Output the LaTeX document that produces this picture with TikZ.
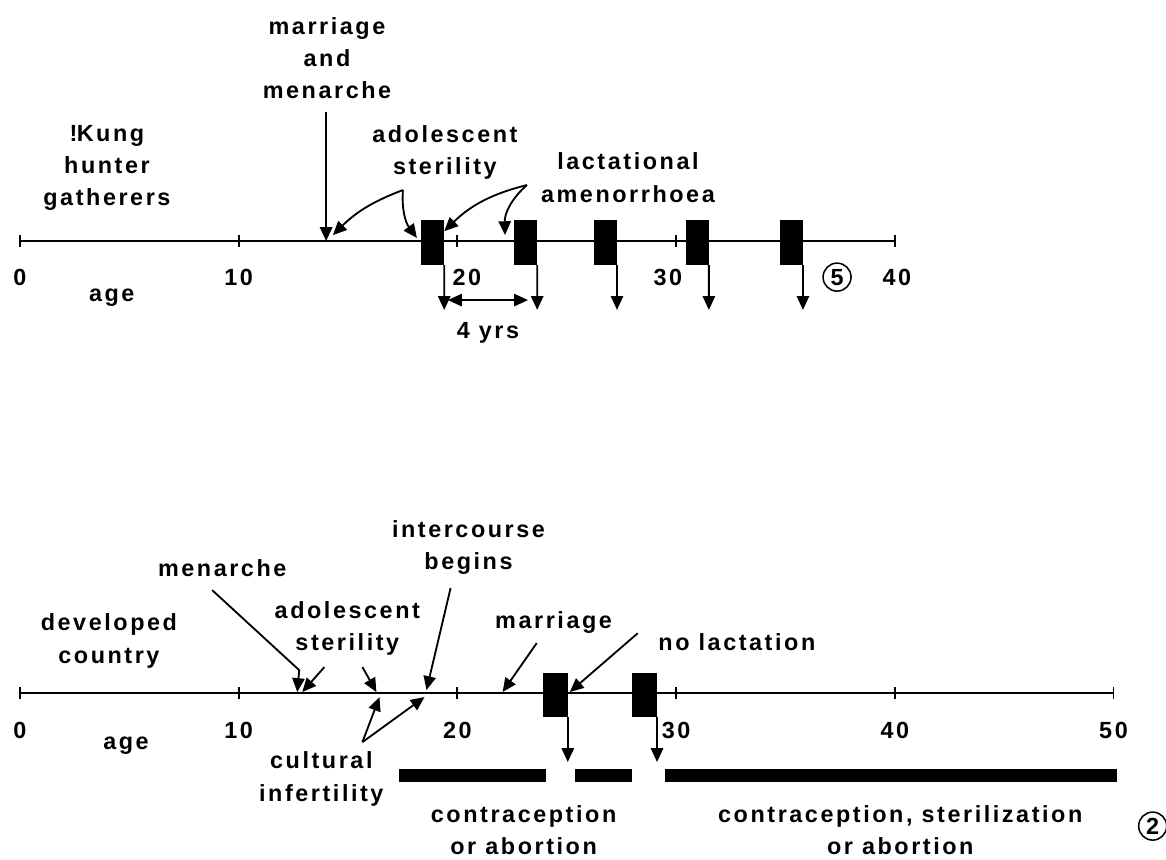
\documentclass[tikz,border=0pt]{standalone}
\usepackage{fontspec}
\newfontfamily\handfont{Liberation Sans Bold}[LetterSpace=11]
\usetikzlibrary{arrows.meta}

\tikzset{
  lbl/.style={font=\fontsize{15.2}{21}\selectfont\handfont, align=center, inner sep=1pt},
  birth/.style={fill=black, inner sep=0pt, outer sep=0pt, minimum width=0.525cm, minimum height=1.03cm, anchor=north west},
  bar/.style={line width=8.4pt},
  famsize/.style={lbl, circle, draw, line width=1pt, minimum size=0.64cm, inner sep=0pt},
}

\begin{document}
\begin{tikzpicture}[x=0.5cm,y=0.5cm,line width=1.2pt,>={Triangle[length=9pt,width=8pt]}]
\useasboundingbox (-0.91,-28.26) rectangle (52.40,11.02);

%%% top: !Kung hunter gatherers
\draw (0,0)--(40,0); % age axis
\foreach \t in {0,10,...,40} \draw (\t,0.27)--(\t,-0.27);
\node[lbl] (k0) at (0,-1.65) {0};
\node[lbl] (k10) at (10,-1.65) {10};
\node[lbl] (k20) at (20.44,-1.65) {20};
\node[lbl] (k30) at (29.63,-1.65) {30};
\node[lbl] (k40) at (40.1,-1.65) {40};
\node[famsize] (fam5) at (37.36,-1.65) {5};
\node[lbl] (kage) at (4.2,-2.6) {age};

\node[lbl] (kung) at (3.98,3.34) {!\kern-0.5pt Kung\\hunter\\gatherers};
\node[lbl] (kmarmen) at (14.04,8.37) {marriage\\and\\menarche};
\node[lbl] (kadol) at (19.43,4.05) {adolescent\\sterility};
\node[lbl] (klact) at (27.8,2.9) {lactational\\amenorrhoea};

% births every 4 yrs
\foreach \a [count=\i] in {18.35,22.6,26.25,30.45,34.75}{
  \node[birth] (kb\i) at (\a,0.96) {};
  \coordinate (kbd\i) at ({\a+1.05},-3.15);
  \draw[->] (kb\i.south east) -- (kbd\i);
}
\coordinate (gapA) at (19.57,-2.7);
\coordinate (gapB) at (23.23,-2.7);
\draw[<->] (gapA) -- (gapB);
\node[lbl] (kyrs) at (21.4,-4.2) {4 yrs};

\coordinate (kmarA) at (14,5.9);
\coordinate (kmarB) at (14,0);
\draw[->] (kmarA) -- (kmarB);

\coordinate (adolfork) at (17.51,2.33);
\coordinate (adolA) at (14.31,0.27);
\coordinate (adolB) at (18.15,0.14);
\draw[->] (adolfork) to[bend right=12] (adolA);
\draw[->] (adolfork) to[bend right=20] (adolB);

\coordinate (lactfork) at (23.18,2.56);
\coordinate (lactA) at (19.4,0.45);
\coordinate (lactB) at (22.18,0.27);
\draw[->] (lactfork) to[bend right=15] (lactA);
\draw[->] (lactfork) to[bend right=25] (lactB);

%%% bottom: developed country
\begin{scope}[shift={(0,-20.67)}]
\draw (0,0)--(50,0); % age axis
\foreach \t in {0,10,...,50}{
  \draw (\t,0.27)--(\t,-0.27);
  \node[lbl] (d\t) at (\t,-1.69) {\t};
}
\node[lbl] (dage) at (4.85,-2.38) {age};
\node[famsize] (fam2) at (51.79,-6.08) {2};

\node[lbl] (dev) at (4.07,2.38) {developed\\country};
\node[lbl] (dmen) at (9.25,5.72) {menarche};
\node[lbl] (dadol) at (14.97,2.95) {adolescent\\sterility};
\node[lbl] (dinter) at (20.51,6.65) {intercourse\\begins};
\node[lbl] (dcult) at (13.78,-3.93) {cultural\\infertility};
\node[lbl] (dmar) at (24.4,3.25) {marriage};
\node[lbl] (dnolac) at (32.78,2.33) {no lactation};
\node[lbl] (dcon) at (23.03,-6.26) {contraception\\or abortion};
\node[lbl] (dster) at (40.25,-6.26) {contraception, sterilization\\or abortion};

% two births
\foreach \a [count=\i] in {23.9,27.98}{
  \node[birth, minimum width=0.575cm, minimum height=1cm] (db\i) at (\a,0.91) {};
  \coordinate (dbd\i) at ({\a+1.15},-3.15);
  \draw[->] (db\i.south east) -- (dbd\i);
}
\draw[bar] (17.35,-3.75)--(24.04,-3.75);
\draw[bar] (25.37,-3.75)--(27.98,-3.75);
\draw[bar] (29.49,-3.75)--(50.14,-3.75);

\coordinate (menA) at (8.79,4.71);
\coordinate (menB) at (12.77,1.05);
\coordinate (menC) at (12.68,0.05);
\draw[->] (menA) -- (menB) -- (menC);

\coordinate (dadolA) at (13.92,1.19);
\coordinate (dadolB) at (12.91,0.05);
\coordinate (dadolC) at (15.66,1.19);
\coordinate (dadolD) at (16.3,0.05);
\draw[->] (dadolA) -- (dadolB);
\draw[->] (dadolC) -- (dadolD);

\coordinate (cultfork) at (15.66,-2.24);
\coordinate (cultA) at (16.44,-0.18);
\coordinate (cultB) at (18.5,-0.18);
\draw[->] (cultfork) -- (cultA);
\draw[->] (cultfork) -- (cultB);

\coordinate (interA) at (19.69,4.8);
\coordinate (interB) at (18.59,0.14);
\draw[->] (interA) -- (interB);

\coordinate (dmarA) at (23.63,2.29);
\coordinate (dmarB) at (22.07,0.05);
\draw[->] (dmarA) -- (dmarB);

\coordinate (nolacA) at (28.25,2.74);
\coordinate (nolacB) at (25.14,0.05);
\draw[->] (nolacA) -- (nolacB);
\end{scope}
\end{tikzpicture}
\end{document}
